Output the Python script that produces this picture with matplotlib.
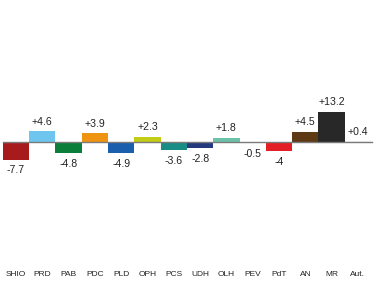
import matplotlib.pyplot as plt
import numpy as np

parties = ['SHIO', 'PRD', 'PAB', 'PDC', 'PLD', 'OPH', 'PCS', 'UDH', 'OLH', 'PEV', 'PdT', 'AN', 'MR', 'Aut.']
changes = [-7.7, 4.6, -4.8, 3.9, -4.9, 2.3, -3.6, -2.8, 1.8, -0.5, -4, 4.5, 13.2, 0.4]
colors = ['#a81b1d', '#6ec6ef', '#0b7f3a', '#ef9410', '#1a5fad', '#c3cc14', '#1a8c86',
          '#233a7f', '#6cc2a8', '#eab38a', '#e31e24', '#5e3a14', '#282828', '#f4f4f4']

W, H = 375, 284
fig = plt.figure(figsize=(W / 100, H / 100), dpi=100)

# pixel geometry of the reference
x0, step = 16, 26.3          # centre of first bar, spacing
base, scale = 142, 2.3       # baseline row, px per unit
bottom_px = 268

ax = fig.add_axes([0, (H - bottom_px) / H, 1, bottom_px / H])
ax.set_xlim(-x0 / step, (W - x0) / step)
ax.set_ylim((base - bottom_px) / scale, base / scale)

x = np.arange(len(parties))
ax.bar(x, changes, width=1.0, color=colors, edgecolor='none', zorder=2)
ax.plot([-0.5, len(parties) - 0.45], [0, 0], color='#7a7a7a', lw=1.0, zorder=3)

for xi, v in zip(x, changes):
    lab = f'+{v:g}' if v > 0 else f'{v:g}'
    if v > 0:
        ax.text(xi, v + 4.1, lab, ha='center', va='center', fontsize=7.6,
                family='Liberation Sans', color='#222222')
    else:
        ax.text(xi, v - 4.6, lab, ha='center', va='center', fontsize=7.6,
                family='Liberation Sans', color='#222222')

ax.set_xticks(x)
ax.set_xticklabels(parties, fontsize=6.0, family='Liberation Sans', color='#222222')
ax.tick_params(axis='x', length=0, pad=2.0)
ax.set_yticks([])
for s in ax.spines.values():
    s.set_visible(False)

fig.savefig('out.png', dpi=100)
